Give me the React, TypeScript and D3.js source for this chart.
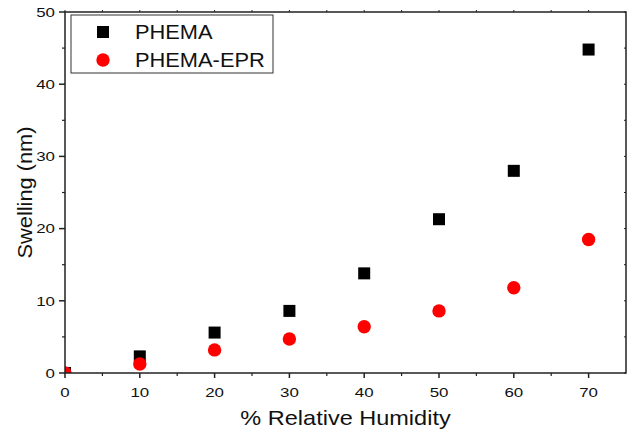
import React from "react";
import * as d3 from "d3";

const humidity = [0, 10, 20, 30, 40, 50, 60, 70];
const phema = [0, 2.3, 5.6, 8.6, 13.8, 21.3, 28.0, 44.8];
const phemaEpr = [0, 1.25, 3.2, 4.7, 6.4, 8.6, 11.8, 18.5];
const xTicks = [0, 10, 20, 30, 40, 50, 60, 70];
const yTicks = [0, 10, 20, 30, 40, 50];

const W = 627;
const H = 430;
const margin = { left: 65, right: 1, top: 12, bottom: 57 };

// text stretched horizontally, like the original export
function SText({ x, y, sx = 1, rotate = 0, anchor = "start", size, children }: any) {
  return (
    <g transform={`translate(${x},${y}) rotate(${rotate}) scale(${sx},1)`}>
      <text textAnchor={anchor} fontSize={size} fill="#111">{children}</text>
    </g>
  );
}

export default function App() {
  const x = d3.scaleLinear().domain([0, 75]).range([margin.left, W - margin.right]);
  const y = d3.scaleLinear().domain([0, 50]).range([H - margin.bottom, margin.top]);

  const x0 = x(0), x1 = x(75), y0 = y(0), y1 = y(50);
  const xMinor = d3.range(5, 75, 10);
  const yMinor = d3.range(5, 50, 10);
  const font = "'Liberation Sans', Arial, sans-serif";
  const sq = 12;

  return (
    <svg width={W} height={H} style={{ position: "absolute", left: 0, top: 0 }} fontFamily={font}>
      <defs>
        <clipPath id="plot">
          <rect x={x0} y={y1} width={x1 - x0} height={y0 - y1} />
        </clipPath>
      </defs>
      <rect width={W} height={H} fill="#fff" />

      {/* markers */}
      <g clipPath="url(#plot)">
        {humidity.map((h, i) => (
          <rect key={"s" + i} x={x(h) - sq / 2} y={y(phema[i]) - sq / 2} width={sq} height={sq} fill="#000" />
        ))}
        {humidity.map((h, i) => (
          <circle key={"c" + i} cx={x(h)} cy={y(phemaEpr[i])} r={6.7} fill="#ff0000" />
        ))}
      </g>

      {/* frame */}
      <rect x={x0} y={y1} width={x1 - x0} height={y0 - y1} fill="none" stroke="#222" strokeWidth={1.5} />

      {/* bottom axis */}
      {xTicks.map((t) => (
        <g key={"xt" + t}>
          <line x1={x(t)} x2={x(t)} y1={y0} y2={y0 + 5} stroke="#222" strokeWidth={1.5} />
          <line x1={x(t)} x2={x(t)} y1={y1} y2={y1 - 2} stroke="#222" strokeWidth={1} />
          <SText x={x(t)} y={y0 + 24} sx={1.25} anchor="middle" size={13.5}>{t}</SText>
        </g>
      ))}
      {xMinor.map((t) => (
        <g key={"xm" + t}>
          <line x1={x(t)} x2={x(t)} y1={y0} y2={y0 + 3} stroke="#222" strokeWidth={1.2} />
          <line x1={x(t)} x2={x(t)} y1={y1} y2={y1 - 2} stroke="#222" strokeWidth={1} />
        </g>
      ))}

      {/* left axis */}
      {yTicks.map((t) => (
        <g key={"yt" + t}>
          <line x1={x0} x2={x0 - 6} y1={y(t)} y2={y(t)} stroke="#222" strokeWidth={1.5} />
          <line x1={x1} x2={x1 - 2} y1={y(t)} y2={y(t)} stroke="#222" strokeWidth={1} />
          <SText x={x0 - 10} y={y(t) + 4.8} sx={1.25} anchor="end" size={13.5}>{t}</SText>
        </g>
      ))}
      {yMinor.map((t) => (
        <g key={"ym" + t}>
          <line x1={x0} x2={x0 - 3} y1={y(t)} y2={y(t)} stroke="#222" strokeWidth={1.2} />
          <line x1={x1} x2={x1 - 2} y1={y(t)} y2={y(t)} stroke="#222" strokeWidth={1} />
        </g>
      ))}

      {/* axis titles */}
      <SText x={(x0 + x1) / 2} y={H - 5} sx={1.12} anchor="middle" size={21}>% Relative Humidity</SText>
      <SText x={32} y={(y0 + y1) / 2} rotate={-90} sx={1.09} anchor="middle" size={20}>Swelling (nm)</SText>

      {/* legend */}
      <rect x={71} y={15} width={202} height={58} fill="#fff" stroke="#333" strokeWidth={1} />
      <rect x={103 - 6} y={32 - 6} width={sq} height={sq} fill="#000" />
      <SText x={135} y={39} sx={1.12} size={19.5}>PHEMA</SText>
      <circle cx={103} cy={60} r={6.7} fill="#ff0000" />
      <SText x={135} y={67} sx={1.12} size={19.5}>PHEMA-EPR</SText>
    </svg>
  );
}
